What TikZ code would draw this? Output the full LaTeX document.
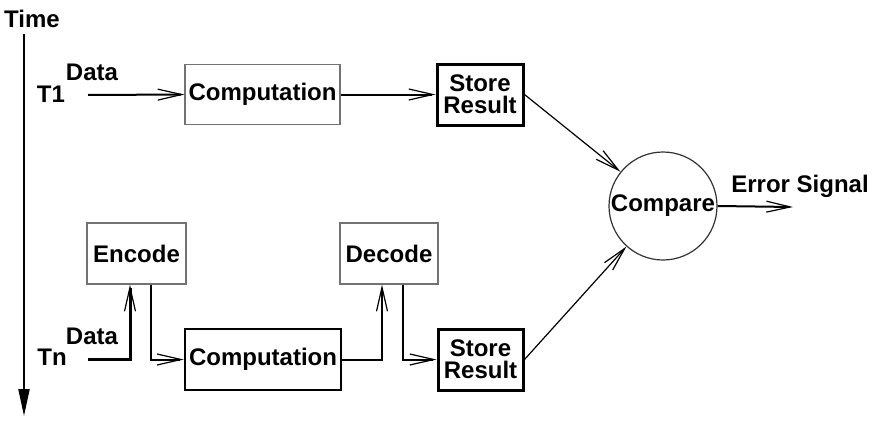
\documentclass[tikz,border=0pt]{standalone}
\usepackage{fontspec}
\setmainfont{Liberation Sans}
\usetikzlibrary{arrows.meta}
\begin{document}
\begin{tikzpicture}[x=1pt,y=-1pt,
  font=\fontsize{24}{22}\selectfont\bfseries,
  thinbox/.style={draw=black!55,line width=1.2pt,inner sep=0pt,align=center},
  thickbox/.style={draw=black,line width=3pt,inner sep=0pt,align=center},
  lbl/.style={inner sep=0pt},
  conn/.style={line width=2pt,-{Straight Barb[length=24pt,width=11pt,line width=1.2pt]}},
  diag/.style={line width=1.2pt,-{Straight Barb[length=24pt,width=11pt,line width=1.2pt]}}
]
\useasboundingbox (0,0) rectangle (877,420);
% time axis
\node[lbl] (time) at (32,19) {Time};
\coordinate (ta) at (24,34);
\coordinate (tb) at (24,416);
\draw[line width=2pt,-{Triangle[length=27pt,width=11pt]}] (ta) -- (tb);
% top row
\node[lbl] (t1) at (51,94) {T1};
\node[lbl] (data1) at (92,72) {Data};
\coordinate (d1) at (88,95);
\node[thinbox,minimum width=155pt,minimum height=60pt] (comp1) at (262.5,94.5) {Computation};
\node[thickbox,minimum width=86pt,minimum height=61pt] (st1) at (480,94.5) {Store\\Result};
% bottom row
\node[lbl] (tn) at (52,357) {Tn};
\node[lbl] (data2) at (92,336) {Data};
\coordinate (d2) at (88,359);
\node[thinbox,minimum width=99pt,minimum height=61pt] (enc) at (136.5,253.5) {Encode};
\node[thinbox,minimum width=98pt,minimum height=61pt] (dec) at (389,253.5) {Decode};
\node[draw=black,line width=2.5pt,inner sep=0pt,minimum width=156pt,minimum height=61pt] (comp2) at (263,359.5) {Computation};
\node[thickbox,minimum width=85pt,minimum height=61pt] (st2) at (480.5,359.5) {Store\\Result};
% compare
\node[draw=black!80,line width=1.2pt,circle,inner sep=0pt,minimum size=108pt] (cmp) at (663,206) {Compare};
\coordinate (err) at (793,207);
\node[lbl] (errl) at (800,186) {Error Signal};
% connectors
\draw[conn] (d1) -- (comp1.west);
\draw[conn] (comp1.east) -- (st1.west);
\draw[diag] (st1.east) -- (cmp);
\draw[diag] (st2.east) -- (cmp);
\draw[conn] (cmp.east) -- (err);
\draw[conn,line width=3pt] (d2) -| ([xshift=-6.5pt]enc.south);
\draw[conn] ([xshift=14pt]enc.south) |- (comp2.west);
\draw[conn] (comp2.east) -| ([xshift=-7pt]dec.south);
\draw[conn] ([xshift=14pt]dec.south) |- (st2.west);
\end{tikzpicture}
\end{document}
